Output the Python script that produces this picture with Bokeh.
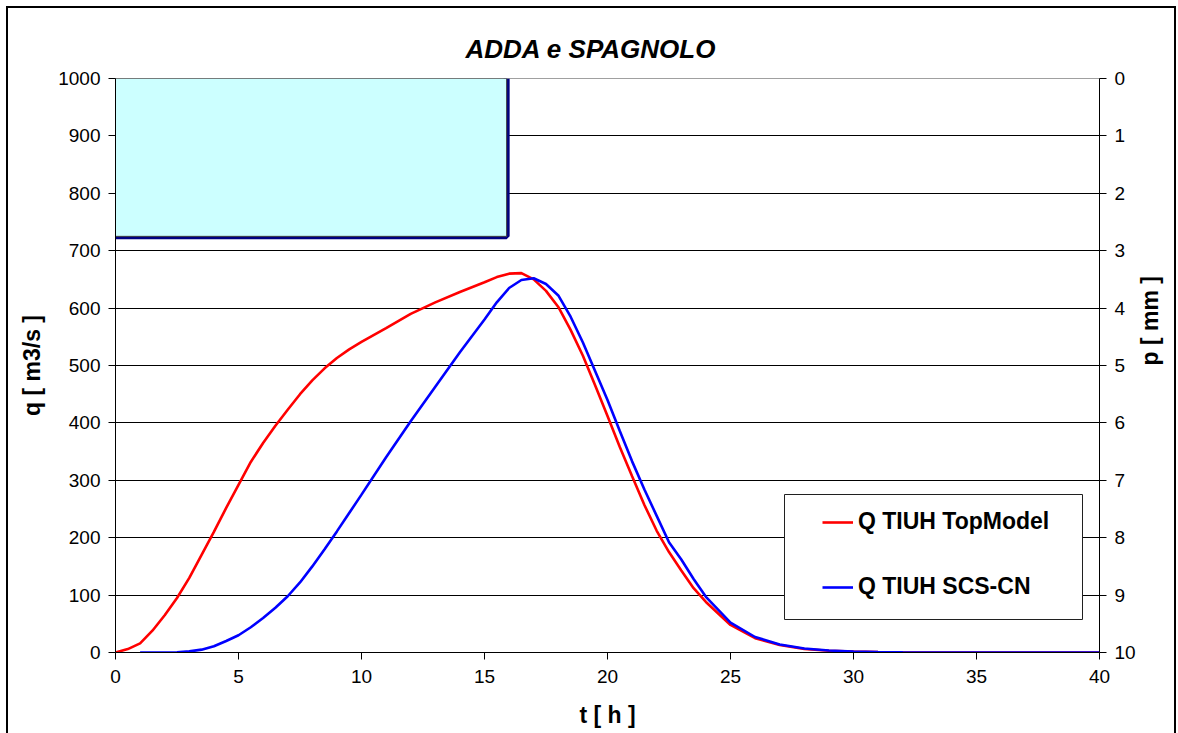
import math
from bokeh.plotting import figure
from bokeh.models import (Range1d, LinearAxis, FixedTicker, Legend, LegendItem,
                          BoxAnnotation)
from bokeh.embed import file_html
from bokeh.resources import INLINE

# ---- data ----
title_text = "ADDA e SPAGNOLO"
x_label = "t [ h ]"
y_label = "q [ m3/s ]"
y2_label = "p [ mm ]"
series_names = ["Q TIUH TopModel", "Q TIUH SCS-CN"]

x_ticks = [0, 5, 10, 15, 20, 25, 30, 35, 40]
q_ticks = [0, 100, 200, 300, 400, 500, 600, 700, 800, 900, 1000]
p_ticks = [0, 1, 2, 3, 4, 5, 6, 7, 8, 9, 10]

# rainfall block (hyetograph)
rain_start = [0.0]
rain_end = [15.9]
rain_depth = [2.75]

t_top = [0, 0.5, 1, 1.5, 2, 2.5, 3, 3.5, 4, 4.5, 5, 5.5, 6, 6.5, 7, 7.5, 8, 8.5,
         9, 9.5, 10, 11, 12, 13, 14, 15, 15.5, 16, 16.5, 17, 17.5, 18, 18.5, 19,
         19.5, 20, 20.5, 21, 21.5, 22, 22.5, 23, 23.5, 24, 25, 26, 27, 28, 29,
         30, 31, 32, 34, 36, 38, 40]
q_top = [0, 6, 16, 38, 65, 95, 130, 170, 210, 252, 292, 332, 365, 395, 423, 450,
         474, 495, 513, 528, 541, 565, 590, 610, 628, 645, 654, 660, 661, 650,
         630, 602, 562, 517, 465, 412, 358, 307, 257, 212, 175, 143, 112, 88,
         48, 25, 13, 6, 3, 1.5, 0.7, 0.3, 0, 0, 0, 0]

t_scs = [1, 1.5, 2, 2.5, 3, 3.5, 4, 4.5, 5, 5.5, 6, 6.5, 7, 7.5, 8, 8.5, 9, 9.5,
         10, 11, 12, 13, 14, 15, 15.5, 16, 16.5, 17, 17.5, 18, 18.5, 19, 19.5,
         20, 20.5, 21, 21.5, 22, 22.5, 23, 23.5, 24, 25, 26, 27, 28, 29, 30, 31,
         32, 34, 36, 38, 40]
q_scs = [0, 0, 0, 0.5, 2, 5, 11, 20, 30, 44, 60, 78, 98, 122, 150, 180, 211, 243,
         275, 340, 403, 463, 523, 580, 610, 635, 649, 652, 642, 622, 585, 540,
         490, 440, 386, 333, 284, 238, 192, 162, 128, 97, 52, 27, 14, 7, 3.5,
         1.6, 0.7, 0.3, 0, 0, 0, 0]

FONT = "Liberation Sans"

p = figure(width=1170, height=727, output_backend="svg", toolbar_location=None,
           x_range=Range1d(0, 40), y_range=Range1d(0, 1000),
           min_border_left=107, min_border_right=78, min_border_top=70,
           min_border_bottom=83)
p.styles = {"border-top": "2px solid black", "border-left": "2px solid black",
            "border-right": "2px solid black", "margin-left": "6px",
            "margin-top": "6px"}
p.extra_y_ranges = {"p": Range1d(start=10, end=0)}

p.title.text = title_text
p.title.align = "left"
p.title.text_font = FONT
p.title.text_font_size = "26px"
p.title.text_font_style = "bold italic"
p.title.text_color = "#000000"
p.title.offset = 350
p.title.standoff = 30

p.outline_line_color = "#a0a0a0"
p.xgrid.visible = False
p.ygrid.ticker = FixedTicker(ticks=q_ticks[1:-1])
p.ygrid.grid_line_color = "#000000"
p.ygrid.grid_line_width = 1

# rainfall block: navy shadow edge then cyan fill
p.line(x=[rain_start[0], rain_end[0], rain_end[0]],
       y=[rain_depth[0], rain_depth[0], 0], y_range_name="p",
       line_color="#000080", line_width=6)
p.quad(left=rain_start, right=rain_end, top=[0], bottom=rain_depth,
       y_range_name="p", fill_color="#CCFFFF", line_color="#404040",
       line_width=1)

r1 = p.line(t_top, q_top, line_color="#FF0000", line_width=2.6)
r2 = p.line(t_scs, q_scs, line_color="#0000FF", line_width=2.6)

def style_axis(ax, label):
    ax.axis_label = label
    ax.axis_label_text_font = FONT
    ax.axis_label_text_font_size = "23px"
    ax.axis_label_text_font_style = "bold"
    ax.axis_label_text_color = "#000000"
    ax.major_label_text_font = FONT
    ax.major_label_text_font_size = "19px"
    ax.major_label_text_color = "#000000"
    ax.axis_line_color = "#000000"
    ax.major_tick_line_color = "#000000"
    ax.major_tick_in = 0
    ax.major_tick_out = 7
    ax.minor_tick_line_color = None
    ax.major_label_standoff = 8

xa = p.xaxis[0]
xa.ticker = FixedTicker(ticks=x_ticks)
style_axis(xa, x_label)
xa.axis_label_standoff = 16
xa.major_label_standoff = 10

ya = p.yaxis[0]
ya.ticker = FixedTicker(ticks=q_ticks)
style_axis(ya, y_label)
ya.axis_label_standoff = 10

ra = LinearAxis(y_range_name="p", ticker=FixedTicker(ticks=p_ticks))
style_axis(ra, y2_label)
ra.axis_label_standoff = 11
ra.axis_label_orientation = math.pi / 2
p.add_layout(ra, "right")

# legend frame
box = BoxAnnotation(left=669, right=967, bottom=33, top=158,
                    left_units="screen", right_units="screen",
                    top_units="screen", bottom_units="screen",
                    fill_color="white", fill_alpha=1.0,
                    line_color="#202020", line_width=1, line_alpha=1.0)
p.add_layout(box)

legend = Legend(items=[LegendItem(label=series_names[0], renderers=[r1]),
                       LegendItem(label=series_names[1], renderers=[r2])],
                location=(707, 52), margin=0, padding=0,
                border_line_alpha=0, background_fill_alpha=0,
                label_text_font=FONT, label_text_font_size="23px",
                label_text_font_style="bold", label_text_color="#000000",
                label_standoff=5,
                glyph_width=31, glyph_height=24, label_height=24,
                spacing=38)
p.add_layout(legend)

open("out.html", "w").write(file_html(p, INLINE))
